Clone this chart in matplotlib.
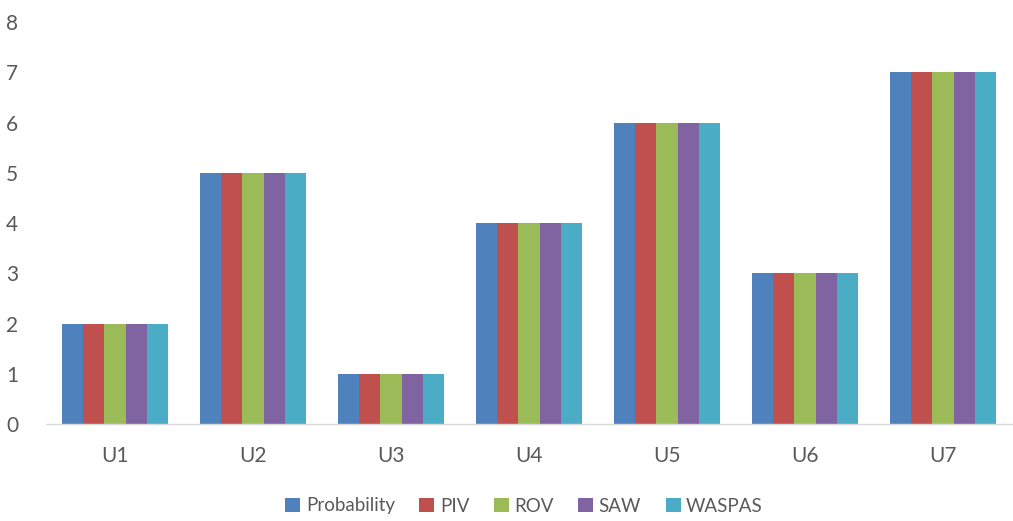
import matplotlib
matplotlib.use("Agg")
import matplotlib.pyplot as plt
import numpy as np

categories = ["U1", "U2", "U3", "U4", "U5", "U6", "U7"]
series_names = ["Probability", "PIV", "ROV", "SAW", "WASPAS"]
probability = [2, 5, 1, 4, 6, 3, 7]
piv = [2, 5, 1, 4, 6, 3, 7]
rov = [2, 5, 1, 4, 6, 3, 7]
saw = [2, 5, 1, 4, 6, 3, 7]
waspas = [2, 5, 1, 4, 6, 3, 7]
colors = ["#4F81BD", "#C0504D", "#9BBB59", "#8064A2", "#4BACC6"]

plt.rcParams["font.family"] = ["Lato", "DejaVu Sans"]
text_color = "#595959"

fig = plt.figure(figsize=(10.13, 5.21), dpi=100)
ax = fig.add_axes([46 / 1013, 97 / 521, (1012 - 46) / 1013, (424 - 22) / 521])

x = np.arange(len(categories))
group_w = 0.775
bar_w = group_w / len(series_names)
all_series = [probability, piv, rov, saw, waspas]
for i, (name, vals, c) in enumerate(zip(series_names, all_series, colors)):
    offs = -group_w / 2 + bar_w * (i + 0.5)
    ax.bar(x + offs, vals, width=bar_w, color=c, label=name, linewidth=0)

ax.set_xlim(-0.5, len(categories) - 0.5)
ax.set_ylim(0, 8)
ax.set_yticks(range(0, 9))
ax.set_xticks(x)
ax.set_xticklabels(categories)
ax.tick_params(axis="both", length=0, labelsize=15, colors=text_color)
ax.tick_params(axis="y", pad=20)
ax.tick_params(axis="x", pad=16)
for s in ["top", "right", "left"]:
    ax.spines[s].set_visible(False)
ax.spines["bottom"].set_color("#D9D9D9")
ax.spines["bottom"].set_linewidth(1.0)

leg = fig.legend(loc="center", bbox_to_anchor=(524 / 1013, 1 - 506 / 521), ncol=5,
                 frameon=False, fontsize=13.5, handlelength=0.8, handleheight=0.8,
                 handletextpad=0.3, columnspacing=1.3, labelcolor=text_color)

fig.savefig("out.png", dpi=100)
